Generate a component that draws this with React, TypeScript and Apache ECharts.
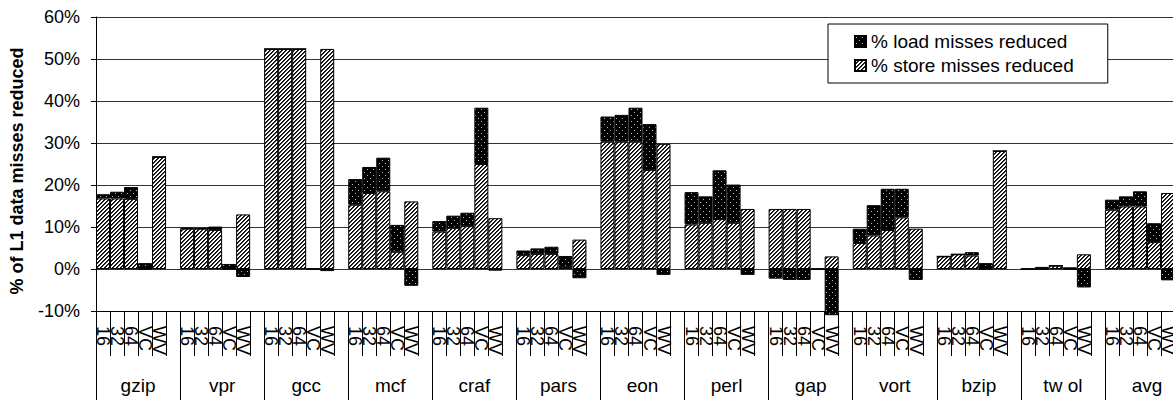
import React, { useEffect, useRef } from 'react';
import * as echarts from 'echarts';

const groups = ['gzip', 'vpr', 'gcc', 'mcf', 'craf', 'pars', 'eon', 'perl', 'gap', 'vort', 'bzip', 'tw ol', 'avg'];
const configs = ['16', '32', '64', 'VC', 'WV'];

// % store misses reduced (per group: 16, 32, 64, VC, WV)
const storeReduced: number[][] = [
  [16.8, 16.8, 16.7, 0, 26.7],
  [9.6, 9.6, 9.3, 0, 13.0],
  [52.4, 52.4, 52.4, 0, 52.4],
  [15.3, 18.1, 18.5, 4.1, 16.1],
  [8.9, 9.8, 10.2, 25.0, 12.1],
  [3.3, 3.6, 3.6, 0.5, 7.0],
  [30.3, 30.3, 30.3, 23.6, 29.8],
  [10.6, 11.0, 11.9, 11.0, 14.3],
  [14.3, 14.3, 14.3, 0, 3.0],
  [6.2, 8.0, 9.3, 12.3, 9.6],
  [3.0, 3.5, 3.2, 0, 28.1],
  [0, 0, 0.8, 0, 3.5],
  [14.1, 14.9, 14.9, 6.4, 18.1],
];

// % load misses reduced (per group: 16, 32, 64, VC, WV)
const loadReduced: number[][] = [
  [1.0, 1.6, 2.8, 1.4, 0],
  [0.2, 0.1, 0.8, 1.2, -1.9],
  [0, 0, 0, 0, -0.5],
  [6.1, 6.2, 8.0, 6.4, -4.0],
  [2.5, 2.9, 3.2, 13.4, -0.4],
  [1.1, 1.3, 1.7, 2.6, -2.2],
  [6.0, 6.4, 8.1, 10.9, -1.4],
  [7.7, 6.3, 11.6, 9.1, -1.4],
  [-2.3, -2.6, -2.6, 0, -11.0],
  [3.4, 7.2, 9.8, 6.8, -2.6],
  [0, 0, 0.8, 1.4, 0],
  [0, 0.5, 0, 0.4, -4.4],
  [2.4, 2.4, 3.6, 4.5, -2.7],
];

const LOAD_NAME = '% load misses reduced';
const STORE_NAME = '% store misses reduced';
const Y_NAME = '% of L1 data misses reduced';
const FONT = 'Arial, "Liberation Sans", Helvetica, sans-serif';

function makeHatch() {
  const c = document.createElement('canvas');
  const n = 4;
  c.width = n;
  c.height = n;
  const ctx = c.getContext('2d')!;
  ctx.fillStyle = '#fff';
  ctx.fillRect(0, 0, n, n);
  for (let i = 0; i < n; i++) {
    ctx.fillStyle = '#000';
    ctx.fillRect(i, n - 1 - i, 1, 1);
    ctx.fillStyle = '#333';
    ctx.fillRect((i + 1) % n, n - 1 - i, 1, 1);
  }
  return { image: c, imageWidth: n, imageHeight: n, repeat: 'repeat' };
}

function makeDots() {
  const c = document.createElement('canvas');
  const n = 6;
  c.width = n;
  c.height = n;
  const ctx = c.getContext('2d')!;
  ctx.fillStyle = '#000';
  ctx.fillRect(0, 0, n, n);
  ctx.fillStyle = '#bbb';
  ctx.fillRect(1, 1, 1, 1);
  ctx.fillRect(4, 4, 1, 1);
  return { image: c, imageWidth: n, imageHeight: n, repeat: 'repeat' };
}

export default function App() {
  const ref = useRef<HTMLDivElement>(null);
  useEffect(() => {
    const chart = echarts.init(ref.current!, null, { renderer: 'svg' });
    const hatch = makeHatch();
    const dots = makeDots();
    const categories: string[] = [];
    const storeData: (number | null)[] = [];
    const loadData: (number | null)[] = [];
    groups.forEach((g, gi) => {
      configs.forEach((c, ci) => {
        categories.push(c);
        storeData.push(storeReduced[gi][ci]);
        loadData.push(loadReduced[gi][ci]);
      });
      categories.push('');
      storeData.push(null);
      loadData.push(null);
    });
    chart.setOption({
      animation: false,
      textStyle: { fontFamily: FONT, color: '#000' },
      grid: { left: 96, right: 11, top: 17, bottom: 89 },
      legend: {
        left: 828,
        top: 24,
        orient: 'vertical',
        data: [LOAD_NAME, STORE_NAME],
        itemWidth: 11,
        itemHeight: 11,
        itemGap: 5,
        padding: [8, 34, 8, 26],
        backgroundColor: '#fff',
        borderColor: '#000',
        borderWidth: 1,
        borderRadius: 0,
        icon: 'rect',
        selectedMode: false,
        textStyle: { fontSize: 19, color: '#000', fontFamily: FONT },
      },
      xAxis: [
        {
          type: 'category',
          data: categories,
          position: 'bottom',
          axisLine: { onZero: false, lineStyle: { color: '#000', width: 1 } },
          axisTick: { show: true, interval: 0, length: 45, lineStyle: { color: '#000' } },
          axisLabel: { interval: 0, rotate: -90, fontSize: 18, color: '#000', margin: 15, fontFamily: FONT },
          splitLine: { show: false },
        },
        {
          type: 'category',
          data: groups,
          position: 'bottom',
          axisLine: { show: false, onZero: false },
          axisTick: { show: true, interval: 0, length: 89, lineStyle: { color: '#000' } },
          axisLabel: { interval: 0, fontSize: 19, color: '#000', margin: 65, fontFamily: FONT },
          splitLine: { show: false },
        },
      ],
      yAxis: {
        type: 'value',
        min: -10,
        max: 60,
        interval: 10,
        name: Y_NAME,
        nameLocation: 'middle',
        nameRotate: 90,
        nameGap: 70,
        nameTextStyle: { fontSize: 18, fontWeight: 'bold', color: '#000', fontFamily: FONT, padding: [0, 14, 0, 0] },
        axisLine: { show: true, lineStyle: { color: '#000' } },
        axisTick: { show: true, length: 5, lineStyle: { color: '#000' } },
        axisLabel: { formatter: '{value}%', fontSize: 18, color: '#000', margin: 16, fontFamily: FONT },
        splitLine: { show: true, lineStyle: { color: '#333', width: 1 } },
      },
      series: [
        {
          name: STORE_NAME,
          type: 'bar',
          stack: 'misses',
          data: storeData,
          barCategoryGap: '0%',
          clip: false,
          itemStyle: { color: hatch, borderColor: '#000', borderWidth: 1 },
        },
        {
          name: LOAD_NAME,
          type: 'bar',
          stack: 'misses',
          data: loadData,
          barCategoryGap: '0%',
          clip: false,
          itemStyle: { color: dots, borderColor: '#000', borderWidth: 1 },
        },
      ],
    });
    return () => chart.dispose();
  }, []);
  return (
    <div style={{ position: 'fixed', left: 0, top: 0, width: 1173, height: 400, overflow: 'hidden', background: '#fff' }}>
      <div ref={ref} style={{ width: 1200, height: 400 }} />
    </div>
  );
}
